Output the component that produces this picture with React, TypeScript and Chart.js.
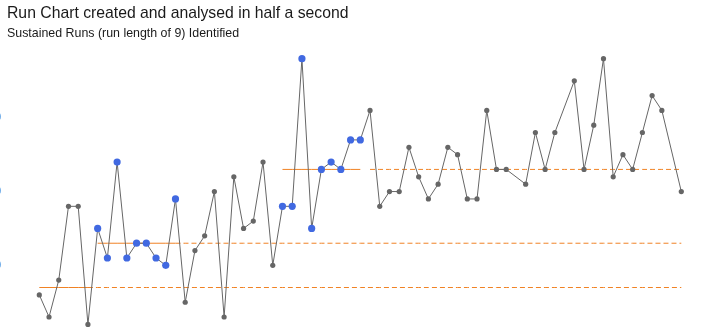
import React, { useEffect, useRef } from "react";
import { Chart, registerables } from "chart.js";

Chart.register(...registerables);

// Observation labels (67 slots; three slots have no observation)
const dayLabels: string[] = Array.from({ length: 67 }, (_, i) => String(i + 1));

// Observed values (null = no observation recorded)
const observations: (number | null)[] = [
  6, 3, 8, 18, 18, 2, 15, 11, 24, 11,
  13, 13, 11, 10, 19, 5, 12, 14, 20, 3,
  22, 15, 16, 24, 10, 18, 18, 38, 15, 23,
  24, 23, 27, 27, 31, 18, 20, 20, 26, 22,
  19, 21, 26, 25, 19, 19, 31, 23, 23, null,
  21, 28, 23, 28, null, 35, 23, 29, 38, 22,
  25, 23, 28, 33, 31, null, 20,
];

// Medians (baseline and after each sustained run)
const medianValues = [7, 13, 23];
const medianFrom = [0, 6, 25];
const medianTo = [5, 14, 33];
const extendFrom = [5, 14, 34];

// Sustained runs (run length of 9)
const runFrom = [6, 25];
const runTo = [14, 33];

const yTicks = [10, 20, 30];

const TITLE = "Run Chart created and analysed in half a second";
const SUBTITLE = "Sustained Runs (run length of 9) Identified";

const LINE_GREY = "#666666";
const RUN_BLUE = "#4169e1";
const MEDIAN_ORANGE = "#f08224";

function segment(value: number, from: number, to: number): (number | null)[] {
  return dayLabels.map((_, i) => (i >= from && i <= to ? value : null));
}

function inRun(i: number): boolean {
  return runFrom.some((s, k) => i >= s && i <= runTo[k]);
}

export default function App() {
  const canvasRef = useRef<HTMLCanvasElement | null>(null);

  useEffect(() => {
    if (!canvasRef.current) return;
    const last = dayLabels.length - 1;
    const medianDatasets: any[] = [];
    medianValues.forEach((m, k) => {
      medianDatasets.push({
        data: segment(m, medianFrom[k], medianTo[k]),
        borderColor: MEDIAN_ORANGE,
        borderWidth: 1,
        pointRadius: 0,
        fill: false,
        spanGaps: false,
        clip: false,
      });
      medianDatasets.push({
        data: segment(m, extendFrom[k], last),
        borderColor: MEDIAN_ORANGE,
        borderWidth: 1,
        borderDash: [5, 3],
        pointRadius: 0,
        fill: false,
        spanGaps: false,
        clip: false,
      });
    });

    const chart = new Chart(canvasRef.current, {
      type: "line",
      data: {
        labels: dayLabels,
        datasets: [
          {
            data: observations,
            borderColor: LINE_GREY,
            borderWidth: 1,
            tension: 0,
            spanGaps: true,
            fill: false,
            clip: false,
            pointRadius: observations.map((_, i) => (inRun(i) ? 3.6 : 2.6)),
            pointBackgroundColor: observations.map((_, i) => (inRun(i) ? RUN_BLUE : LINE_GREY)),
            pointBorderWidth: 0,
            pointBorderColor: "rgba(0,0,0,0)",
          },
          ...medianDatasets,
        ],
      },
      options: {
        animation: false,
        responsive: true,
        maintainAspectRatio: false,
        layout: { padding: { top: 51.34, bottom: 47.6, left: 0, right: 19.7 } },
        plugins: {
          legend: { display: false },
          tooltip: { enabled: false },
          title: { display: false },
        },
        scales: {
          x: { type: "category", display: false, offset: false },
          y: {
            min: 2,
            max: 39,
            afterBuildTicks: (s: any) => {
              s.ticks = yTicks.map((v) => ({ value: v }));
            },
            afterFit: (s: any) => {
              s.width = 79.3;
            },
            grid: { display: false, drawTicks: false },
            border: { display: false },
            ticks: {
              padding: 38.2,
              color: "#3d8fe0",
              font: { size: 12, family: "Liberation Sans" },
            },
          },
        },
      },
    });
    return () => chart.destroy();
  }, []);

  return (
    <div
      style={{
        position: "absolute",
        left: 0,
        top: 0,
        width: 701,
        height: 330,
        overflow: "hidden",
      }}
    >
      <div
        style={{
          position: "absolute",
          left: -40,
          top: 0,
          width: 741,
          height: 372,
        }}
      >
        <canvas ref={canvasRef} />
      </div>
      <div
        style={{
          position: "absolute",
          left: 7,
          top: 4.9,
          fontFamily: "Liberation Sans",
          fontSize: 15.75,
          lineHeight: "16px",
          color: "#1a1a1a",
          whiteSpace: "nowrap",
        }}
      >
        {TITLE}
      </div>
      <div
        style={{
          position: "absolute",
          left: 7,
          top: 26.9,
          fontFamily: "Liberation Sans",
          fontSize: 12.4,
          lineHeight: "12px",
          color: "#1a1a1a",
          whiteSpace: "nowrap",
        }}
      >
        {SUBTITLE}
      </div>
    </div>
  );
}
